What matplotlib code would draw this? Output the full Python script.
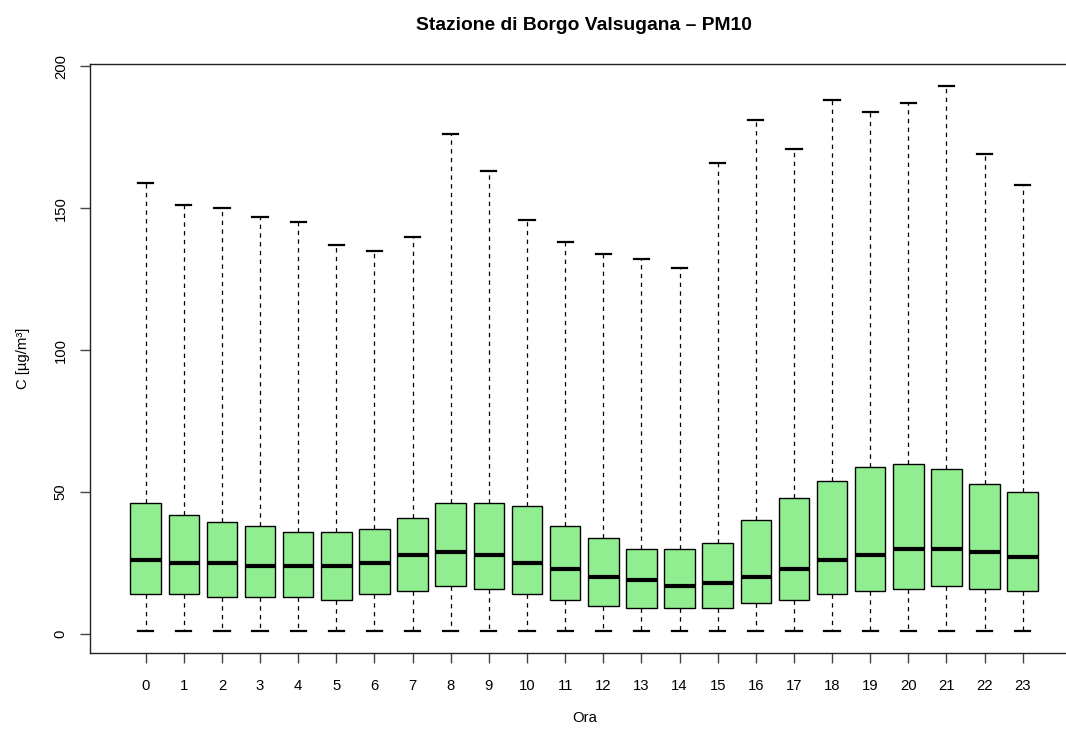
"""
Boxplot orario PM10 - Stazione di Borgo Valsugana (stile R boxplot).
"""
import matplotlib
matplotlib.use("Agg")
import matplotlib.pyplot as plt

plt.rcParams["font.family"] = ["Liberation Sans", "DejaVu Sans"]

# --- data ---
hours = list(range(24))
whisk_lo = [1] * 24
q1 = [14, 14, 13, 13, 13, 12, 14, 15, 17, 16, 14, 12,
      10, 9, 9, 9, 11, 12, 14, 15, 16, 17, 16, 15]
med = [26, 25, 25, 24, 24, 24, 25, 28, 29, 28, 25, 23,
       20, 19, 17, 18, 20, 23, 26, 28, 30, 30, 29, 27]
q3 = [46, 42, 39.5, 38, 36, 36, 37, 41, 46, 46, 45, 38,
      34, 30, 30, 32, 40, 48, 54, 59, 60, 58, 53, 50]
whisk_hi = [159, 151, 150, 147, 145, 137, 135, 140, 176, 163, 146, 138,
            134, 132, 129, 166, 181, 171, 188, 184, 187, 193, 169, 158]

BOX_COLOR = "#90EE90"  # R "lightgreen"

stats = [
    {"whislo": lo, "q1": a, "med": m, "q3": b, "whishi": hi, "label": str(h)}
    for h, lo, a, m, b, hi in zip(hours, whisk_lo, q1, med, q3, whisk_hi)
]

fig = plt.figure(figsize=(10.66, 7.31), dpi=100)
# R frame: right side falls outside the picture
left, right = 90 / 1066, 1078.4 / 1066
ax = fig.add_axes([left, 1 - 653 / 731, right - left, (653 - 64.3) / 731])

ax.bxp(
    stats,
    positions=hours,
    widths=0.8,
    patch_artist=True,
    showfliers=False,
    boxprops=dict(facecolor=BOX_COLOR, edgecolor="black", linewidth=1.0),
    medianprops=dict(color="black", linewidth=3.0, solid_capstyle="butt"),
    whiskerprops=dict(color="black", linewidth=0.9, linestyle=(0, (3.5, 3.5))),
    capprops=dict(color="black", linewidth=1.6),
    capwidths=0.4,
)

ax.set_xlim(-1.46, 24.46)
ax.set_ylim(-6.68, 200.68)
ax.set_xticks(hours)
ax.set_xticklabels([str(h) for h in hours])
ax.set_yticks([0, 50, 100, 150, 200])
ax.set_yticklabels(["0", "50", "100", "150", "200"], rotation=90, va="center")

ax.spines["right"].set_visible(False)
for s in ("left", "bottom", "top"):
    ax.spines[s].set_linewidth(1.0)
    ax.spines[s].set_color("#222222")

ax.tick_params(axis="both", direction="out", length=7, width=1.0,
               color="#444444", labelsize=10.7)
ax.tick_params(axis="x", pad=12)
ax.tick_params(axis="y", pad=9)

ax.set_xlabel("Ora", fontsize=10.7, labelpad=13)
ax.set_ylabel("C [µg/m³]", fontsize=10.7, labelpad=17)
# title centred on the plot region, like R
fig.text((left + right) / 2, 1 - 26 / 731, "Stazione di Borgo Valsugana – PM10",
         fontsize=13.9, fontweight="bold", ha="center", va="center")

fig.savefig("out.png", dpi=100)
